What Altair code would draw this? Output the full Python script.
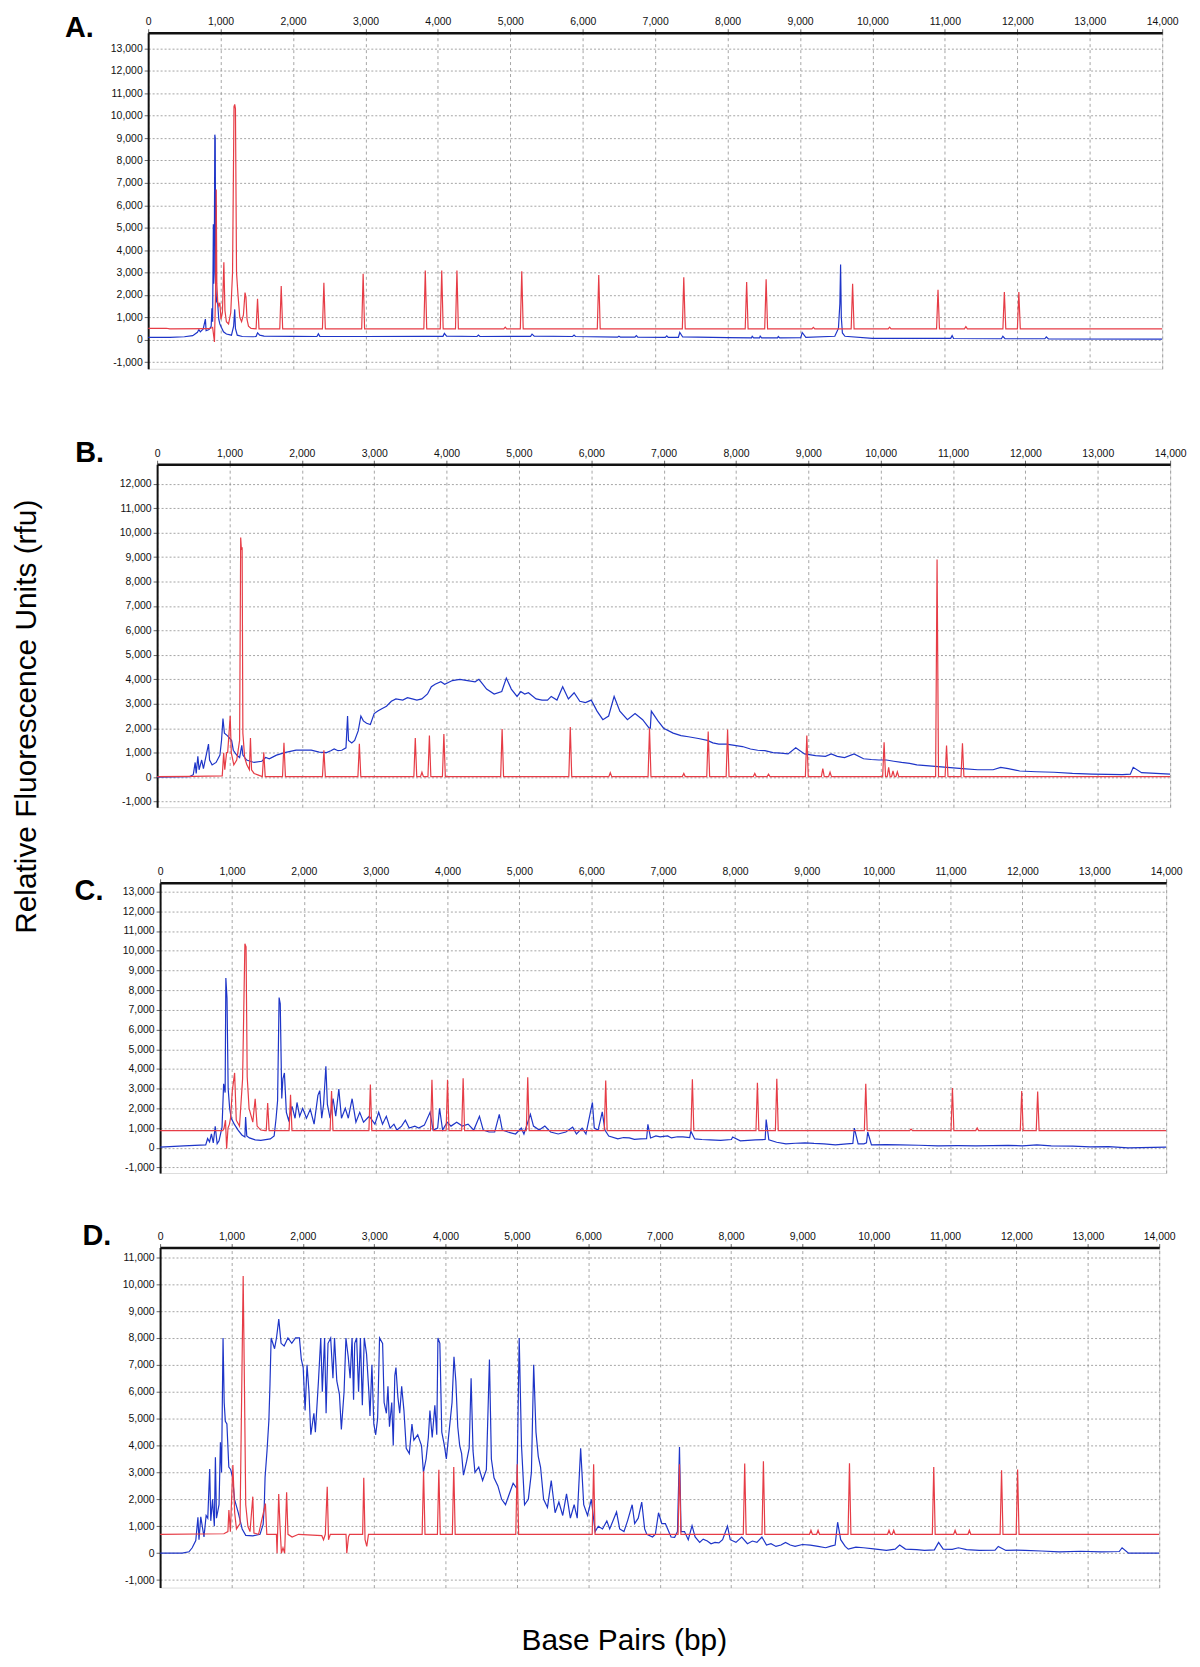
import altair as alt
import pandas as pd

RED = "#e63c46"
BLUE = "#1e35c8"
FONT = "Liberation Sans"

# ---------------- Panel A ----------------
A_RED_BASE = 480
A_RED_START = [(0, 500), (250, 510), (300, 480), (850, 490), (890, 550), (915, -100), (930, 2000),
               (940, 6700), (948, 2500), (960, 1700), (975, 1500), (990, 1650), (1005, 900), (1025, 1200),
               (1045, 3450), (1060, 1300), (1080, 800), (1110, 700), (1140, 1200), (1165, 3000),
               (1185, 10400), (1195, 10500), (1205, 10300), (1220, 3000), (1240, 2000), (1265, 1000),
               (1290, 800), (1315, 1100), (1337, 2100), (1350, 1900), (1365, 900), (1385, 600), (1420, 500)]
A_RED_PEAKS = [(1510, 1830), (1837, 2390), (2426, 2540), (2968, 2940), (3826, 3090), (4053, 3090),
               (4263, 3090), (4930, 560), (5158, 3050), (6221, 2880), (7395, 2790), (8263, 2570),
               (8532, 2690), (9184, 550), (9726, 2490), (10237, 560), (10905, 2230), (11290, 580),
               (11821, 2130), (12021, 2130)]
A_BLUE = [(0, 100), (300, 100), (500, 130), (615, 180), (680, 330), (700, 450), (720, 350), (760, 480),
          (790, 920), (800, 400), (840, 450), (870, 600), (880, 1400), (890, 800), (900, 5150), (905, 2500),
          (912, 3000), (920, 9150), (926, 9000), (932, 2400), (945, 1700), (960, 1600), (975, 900),
          (990, 700), (1010, 550), (1040, 350), (1080, 250), (1150, 200), (1180, 600), (1195, 1350),
          (1205, 500), (1230, 200), (1300, 140), (1450, 130), (1490, 140), (1510, 300), (1540, 200),
          (1600, 160), (2000, 150), (2330, 140), (2350, 260), (2370, 150), (3000, 140), (3800, 150),
          (4070, 150), (4090, 280), (4120, 160), (4540, 140), (4560, 200), (4580, 140), (5280, 150),
          (5300, 250), (5330, 160), (5860, 140), (5880, 200), (5900, 140), (6480, 110), (6500, 150),
          (6520, 110), (6720, 110), (6740, 180), (6760, 110), (7140, 100), (7160, 170), (7180, 100),
          (7320, 100), (7340, 320), (7380, 120), (8000, 90), (8330, 80), (8340, 150), (8360, 80),
          (8440, 80), (8450, 160), (8470, 80), (8690, 80), (8700, 140), (8720, 80), (9010, 90),
          (9030, 320), (9080, 100), (9480, 150), (9530, 500), (9550, 1600), (9560, 3350), (9570, 1000),
          (9585, 300), (9620, 150), (10000, 60), (11080, 60), (11100, 180), (11120, 50), (11780, 40),
          (11800, 150), (11830, 40), (12380, 40), (12400, 120), (12430, 30), (14000, 20)]

# ---------------- Panel B ----------------
B_RED_BASE = 20
B_RED_START = [(0, 20), (500, 30), (900, 50), (920, 1000), (935, 300), (960, 1000), (975, 1000),
               (1010, 2500), (1025, 1000), (1060, 500), (1100, 700), (1140, 1500), (1155, 9800),
               (1165, 9300), (1175, 9400), (1185, 1800), (1210, 800), (1240, 500), (1275, 300),
               (1290, 1600), (1305, 300), (1340, 150), (1400, 80)]
B_RED_PEAKS = [(1474, 1020), (1753, 1400), (2305, 1100), (2795, 1360), (3568, 1600), (3660, 200),
               (3763, 1700), (3963, 1760), (4768, 1970), (5710, 2050), (6263, 180), (6805, 2000),
               (7279, 150), (7616, 1860), (7884, 1950), (8260, 150), (8450, 120), (8979, 1700),
               (9200, 350), (9300, 200), (10047, 1420), (10110, 400), (10170, 250), (10230, 220),
               (10779, 8900), (10910, 1290), (11130, 1380)]
B_BLUE = [(0, 0), (450, 20), (500, 100), (526, 600), (540, 150), (563, 850), (580, 300), (616, 700),
          (640, 350), (710, 1350), (725, 700), (760, 500), (815, 600), (868, 900), (890, 1500), (910, 2400),
          (930, 1800), (970, 1700), (1000, 1600), (1030, 1500), (1053, 1100), (1100, 900), (1140, 800),
          (1170, 1300), (1185, 900), (1237, 700), (1340, 600), (1447, 650), (1500, 800), (1550, 750),
          (1650, 900), (1763, 1000), (1840, 1050), (1920, 1100), (2026, 1100), (2130, 1100), (2240, 1020),
          (2342, 1000), (2400, 1080), (2447, 1150), (2500, 1080), (2552, 1100), (2610, 1200), (2632, 2500),
          (2645, 1500), (2690, 1400), (2730, 1500), (2780, 1900), (2816, 2500), (2850, 2300), (2895, 2200),
          (2947, 2150), (3000, 2600), (3050, 2700), (3105, 2800), (3170, 2900), (3237, 3100), (3300, 3200),
          (3395, 3150), (3460, 3250), (3526, 3200), (3590, 3150), (3658, 3200), (3737, 3400), (3790, 3700),
          (3842, 3800), (3921, 3900), (3974, 3800), (4080, 3950), (4184, 4000), (4290, 3950), (4395, 3900),
          (4447, 4000), (4500, 3800), (4553, 3600), (4658, 3400), (4763, 3500), (4826, 4050), (4895, 3600),
          (4974, 3300), (5026, 3500), (5080, 3400), (5132, 3450), (5237, 3200), (5320, 3150), (5395, 3150),
          (5447, 3300), (5526, 3150), (5605, 3700), (5684, 3200), (5763, 3450), (5842, 3100), (5920, 3050),
          (6000, 3150), (6080, 2700), (6160, 2350), (6240, 2500), (6316, 3300), (6395, 2700), (6500, 2350),
          (6605, 2600), (6710, 2350), (6800, 2000), (6816, 2000), (6830, 2700), (6921, 2300), (7000, 2000),
          (7132, 1800), (7240, 1700), (7342, 1650), (7480, 1580), (7605, 1500), (7680, 1400), (7763, 1350),
          (7868, 1350), (7980, 1300), (8090, 1250), (8200, 1150), (8300, 1100), (8400, 1080), (8510, 1000),
          (8620, 980), (8720, 950), (8826, 1200), (8947, 950), (9100, 880), (9237, 850), (9316, 950),
          (9400, 850), (9500, 800), (9632, 950), (9763, 750), (9870, 720), (9974, 700), (10079, 700),
          (10180, 650), (10289, 600), (10400, 560), (10500, 500), (10710, 450), (10921, 400), (11130, 350),
          (11342, 300), (11553, 300), (11658, 400), (11763, 350), (11921, 250), (12150, 220), (12395, 200),
          (12650, 150), (12921, 120), (13342, 100), (13450, 120), (13490, 400), (13605, 180), (14000, 120)]

# ---------------- Panel C ----------------
C_RED_BASE = 870
C_RED_START = [(0, 870), (873, 870), (890, 1000), (910, 1400), (926, -50), (945, 1000), (965, 1200),
               (980, 1500), (1005, 2900), (1037, 3800), (1060, 1400), (1105, 1100), (1148, 3500),
               (1180, 10350), (1196, 10200), (1212, 3600), (1238, 2000), (1290, 1300), (1323, 2490),
               (1350, 1100), (1400, 900), (1460, 870)]
C_RED_PEAKS = [(1497, 2270), (1815, 2690), (2386, 2880), (2926, 3210), (3783, 3450), (4000, 3450),
               (4217, 3530), (5116, 3580), (6201, 3410), (7407, 3480), (8312, 3300), (8582, 3500),
               (9820, 3250), (10450, 950), (11026, 3030), (11370, 1000), (11990, 2880), (12212, 2850)]
C_BLUE = [(0, 30), (330, 100), (635, 150), (661, 470), (688, 300), (714, 700), (740, 250), (767, 1090),
          (794, 200), (820, 350), (862, 1050), (884, 3250), (905, 2800), (915, 8610), (931, 7600),
          (947, 3000), (968, 2000), (990, 1500), (1032, 1200), (1085, 900), (1138, 650), (1180, 550),
          (1190, 1560), (1206, 600), (1243, 500), (1323, 400), (1402, 380), (1534, 450), (1587, 600),
          (1614, 1500), (1635, 2400), (1656, 7620), (1672, 7300), (1693, 2500), (1709, 3500), (1730, 3800),
          (1757, 1800), (1788, 1400), (1836, 2100), (1878, 1500), (1905, 2300), (1942, 1600), (1984, 2000),
          (2037, 1500), (2090, 1950), (2143, 1200), (2196, 2660), (2222, 2900), (2249, 1500), (2275, 2200),
          (2307, 4140), (2328, 2200), (2365, 1500), (2407, 2500), (2444, 1600), (2487, 2980), (2524, 1500),
          (2577, 2000), (2619, 1500), (2672, 2490), (2725, 1300), (2778, 1800), (2831, 1300), (2910, 1600),
          (2989, 1200), (3042, 1800), (3095, 1200), (3148, 1600), (3201, 1000), (3254, 1200), (3296, 900),
          (3360, 1100), (3413, 1400), (3466, 1000), (3545, 1100), (3598, 1000), (3677, 1150), (3757, 1800),
          (3799, 900), (3862, 1000), (3889, 2000), (3931, 900), (3995, 1300), (4048, 1100), (4127, 1300),
          (4206, 1100), (4286, 1200), (4365, 900), (4444, 1600), (4497, 900), (4577, 800), (4656, 800),
          (4720, 1700), (4762, 900), (4841, 800), (4947, 700), (5026, 1000), (5063, 700), (5153, 1700),
          (5196, 1100), (5275, 900), (5354, 1100), (5434, 800), (5540, 700), (5646, 800), (5741, 1050),
          (5794, 700), (5873, 1000), (5926, 700), (6016, 2300), (6042, 1000), (6095, 900), (6153, 1820),
          (6190, 900), (6243, 600), (6370, 450), (6450, 520), (6529, 500), (6600, 430), (6687, 450),
          (6770, 460), (6788, 1190), (6825, 500), (6900, 600), (6958, 550), (7063, 600), (7116, 500),
          (7200, 560), (7275, 550), (7370, 520), (7386, 840), (7439, 450), (7540, 420), (7651, 400),
          (7800, 380), (7950, 420), (7968, 550), (8074, 350), (8180, 380), (8286, 400), (8420, 420),
          (8434, 1430), (8471, 400), (8580, 280), (8709, 200), (8840, 230), (8974, 250), (9100, 220),
          (9238, 200), (9397, 150), (9556, 200), (9640, 220), (9661, 1000), (9714, 200), (9794, 200),
          (9830, 250), (9847, 800), (9899, 150), (10100, 160), (10296, 150), (10560, 130), (10825, 100),
          (11100, 110), (11354, 100), (11800, 120), (12000, 100), (12201, 150), (12400, 100), (12700, 80),
          (12942, 50), (13200, 60), (13471, 0), (14000, 30)]

# ---------------- Panel D ----------------
D_RED_BASE = 700
D_RED_START = [(0, 700), (894, 720), (950, 800), (964, 1600), (985, 800), (1020, 3280), (1045, 1500),
               (1070, 900), (1120, 1100), (1164, 10300), (1180, 6650), (1200, 1800), (1230, 1000),
               (1260, 800), (1299, 2100), (1315, 750), (1380, 700), (1476, 1840), (1495, 700), (1570, 700),
               (1630, 700), (1639, 0), (1662, 2200), (1680, 1000), (1700, 0), (1722, 200), (1745, 0),
               (1773, 2260), (1792, 700), (1850, 600), (1940, 700), (2266, 650), (2290, 500), (2315, 700),
               (2342, 2470), (2360, 500), (2385, 700), (2605, 700), (2616, 0), (2640, 600), (2655, 700),
               (2730, 700), (2838, 700), (2854, 2800), (2872, 500), (2896, 250), (2920, 700)]
D_RED_PEAKS = [(3692, 3040), (3906, 3100), (4115, 3200), (5004, 3300), (6075, 3300), (7278, 3300),
               (8192, 3330), (8454, 3420), (9120, 850), (9220, 850), (9660, 3340), (10214, 850),
               (10280, 850), (10841, 3200), (11140, 850), (11340, 850), (11791, 3080), (12016, 3110)]
D_BLUE = [(0, 0), (310, 0), (405, 50), (450, 200), (500, 470), (530, 1330), (545, 500), (570, 1350),
          (615, 600), (645, 1400), (668, 1300), (695, 3130), (710, 1200), (735, 2000), (760, 1000),
          (775, 3560), (790, 1300), (826, 1800), (845, 4120), (861, 3000), (882, 8000), (898, 5600),
          (914, 4900), (936, 4800), (963, 3200), (990, 3100), (1016, 2800), (1043, 2000), (1096, 1500),
          (1150, 900), (1200, 660), (1300, 640), (1400, 700), (1444, 1070), (1460, 1800), (1471, 2820),
          (1498, 3800), (1524, 4920), (1540, 6300), (1556, 8000), (1604, 7600), (1631, 8000), (1663, 8700),
          (1695, 7800), (1738, 7700), (1791, 8000), (1845, 7800), (1898, 8000), (1952, 8000), (1979, 7200),
          (2005, 6900), (2032, 5300), (2059, 7000), (2086, 6000), (2112, 4400), (2155, 5200), (2176, 4500),
          (2219, 6400), (2251, 8000), (2273, 6000), (2305, 8000), (2326, 5200), (2353, 7800), (2390, 8000),
          (2422, 6500), (2444, 8000), (2476, 6400), (2513, 5900), (2540, 4600), (2578, 6000), (2604, 8000),
          (2636, 7300), (2663, 6500), (2690, 8000), (2711, 5700), (2727, 7800), (2754, 8000), (2781, 6000),
          (2807, 8000), (2834, 5500), (2861, 8000), (2893, 7400), (2925, 6000), (2941, 5100), (2968, 7000),
          (2995, 4800), (3021, 4400), (3048, 5000), (3075, 8000), (3118, 7800), (3139, 5600), (3171, 5200),
          (3193, 6200), (3214, 4700), (3246, 5600), (3267, 4000), (3289, 6600), (3305, 6900), (3332, 5800),
          (3358, 5200), (3385, 6200), (3417, 5300), (3449, 3900), (3492, 3700), (3529, 4800), (3556, 4200),
          (3610, 4400), (3663, 4000), (3690, 3000), (3727, 3500), (3759, 4300), (3781, 5300), (3813, 4300),
          (3850, 5500), (3877, 4400), (3893, 8000), (3920, 7800), (3947, 4500), (3984, 4000), (4011, 3500),
          (4037, 4200), (4091, 5600), (4118, 7300), (4144, 6400), (4171, 4700), (4198, 4000), (4225, 3700),
          (4251, 2900), (4294, 3400), (4331, 3900), (4358, 6500), (4385, 3800), (4412, 3000), (4465, 3200),
          (4519, 2700), (4572, 3100), (4615, 7200), (4642, 3500), (4679, 2800), (4733, 2500), (4786, 2000),
          (4840, 1800), (4893, 2200), (4947, 2600), (5000, 2400), (5032, 8000), (5064, 4000), (5107, 1800),
          (5160, 2000), (5203, 3000), (5235, 7000), (5267, 4500), (5299, 3600), (5331, 3200), (5374, 2000),
          (5428, 1700), (5481, 2700), (5535, 1500), (5588, 1900), (5642, 1400), (5695, 2200), (5749, 1300),
          (5802, 1800), (5845, 1300), (5893, 3900), (5936, 1800), (5989, 1400), (6043, 2000), (6096, 800),
          (6140, 1000), (6200, 900), (6260, 1200), (6300, 900), (6396, 1530), (6440, 900), (6500, 800),
          (6550, 1200), (6615, 1800), (6650, 1100), (6700, 1300), (6749, 1900), (6790, 900), (6820, 700),
          (6900, 600), (6940, 700), (6984, 1500), (7030, 1100), (7080, 1100), (7160, 600), (7210, 590),
          (7250, 800), (7278, 3950), (7300, 800), (7348, 800), (7401, 500), (7454, 1020), (7497, 600),
          (7561, 400), (7610, 520), (7668, 450), (7720, 350), (7775, 400), (7830, 380), (7882, 500),
          (7951, 1000), (7989, 500), (8069, 400), (8150, 600), (8230, 350), (8300, 450), (8363, 400),
          (8433, 600), (8497, 300), (8560, 350), (8630, 250), (8700, 300), (8764, 400), (8830, 300),
          (8898, 250), (9000, 320), (9112, 300), (9220, 250), (9326, 200), (9400, 260), (9459, 300),
          (9494, 1150), (9537, 500), (9600, 250), (9643, 150), (9750, 220), (9857, 200), (10000, 160),
          (10177, 100), (10300, 150), (10363, 300), (10444, 150), (10600, 130), (10711, 100), (10850, 120),
          (10909, 400), (10973, 150), (11100, 140), (11186, 200), (11300, 130), (11480, 100), (11700, 110),
          (11745, 250), (11852, 100), (12000, 110), (12119, 100), (12350, 80), (12600, 50), (12900, 70),
          (13186, 50), (13440, 60), (13480, 200), (13570, 0), (14000, 0)]

X_TICKS = list(range(0, 14001, 1000))
PEAK_HALF_WIDTH = 20
LEFT_EXTENT = 90


def red_trace(start, peaks, base):
    pts = list(start)
    for x, h in peaks:
        pts += [(x - PEAK_HALF_WIDTH, base), (x, h), (x + PEAK_HALF_WIDTH, base)]
    pts.append((14000, base))
    return pd.DataFrame(pts, columns=["bp", "rfu"])


def blue_trace(pts):
    return pd.DataFrame(pts, columns=["bp", "rfu"])


def one(text):
    return pd.DataFrame({"t": [text]})


HIDDEN_VIEW = alt.ViewBackground(stroke="transparent")


def panel(label, red_df, blue_df, width, height, ydom, ymax_tick, lab_x, lab_y, sp_top, extras=()):
    x = alt.X("bp:Q", scale=alt.Scale(domain=[0, 14000], nice=False, zero=False),
              axis=alt.Axis(orient="top", values=X_TICKS, format=",d", title=None,
                            grid=True, gridDash=[3, 3], gridColor="#8f8f8f", gridWidth=0.8,
                            domainColor="#111111", domainWidth=2.5, tickSize=4, tickColor="#666666",
                            labelFont=FONT, labelFontSize=10.5, labelColor="#111111", labelPadding=2,
                            labelFlush=False, labelOverlap=False))
    y = alt.Y("rfu:Q", scale=alt.Scale(domain=ydom, nice=False, zero=False),
              axis=alt.Axis(values=list(range(-1000, ymax_tick + 1, 1000)), title=None,
                            labelExpr="replace(format(datum.value, ','), '\u2212', '-')",
                            grid=True, gridDash=[2, 2], gridColor="#8f8f8f", gridWidth=0.8,
                            domainColor="#111111", domainWidth=2, tickSize=4, tickColor="#666666",
                            labelFont=FONT, labelFontSize=10.5, labelColor="#111111", labelPadding=2,
                            labelFlush=False, labelOverlap=False))
    blue = alt.Chart(blue_df).mark_line(color=BLUE, strokeWidth=1.2, clip=True).encode(x=x, y=y)
    red = alt.Chart(red_df).mark_line(color=RED, strokeWidth=1.2, clip=True).encode(x=x, y=y)
    lab = alt.Chart(one(label)).mark_text(align="left", baseline="alphabetic", font=FONT, fontSize=29,
                                          fontWeight="bold", color="#000000").encode(
        text="t:N", x=alt.value(lab_x), y=alt.value(lab_y))
    spacer = alt.Chart(one("s")).mark_rule(strokeOpacity=0, strokeWidth=1).encode(
        x=alt.value(-LEFT_EXTENT), y=alt.value(sp_top), y2=alt.value(height + 5))
    return alt.layer(blue, red, lab, spacer, *extras).properties(width=width, height=height)


def pad(w):
    return alt.Chart(one("p")).mark_rule(strokeOpacity=0).encode(
        x=alt.value(0), y=alt.value(0), y2=alt.value(1)
    ).properties(width=w, height=1, view=HIDDEN_VIEW)


xtitle = alt.Chart(one("Base Pairs (bp)")).mark_text(
    font=FONT, fontSize=30, align="center", baseline="middle", color="#000000").encode(
    text="t:N", x=alt.value(467), y=alt.value(396))

ytitle_chart = alt.Chart(one("Relative Fluorescence Units (rfu)")).mark_text(
    angle=270, font=FONT, fontSize=30, align="center", baseline="middle", color="#000000").encode(
    text="t:N", x=alt.value(18), y=alt.value(688)
).properties(width=35, height=1000, view=HIDDEN_VIEW)

pA = panel("A.", red_trace(A_RED_START, A_RED_PEAKS, A_RED_BASE), blue_trace(A_BLUE),
           1020, 338, [-1300, 13700], 13000, -83.6, 4, -18)
pB = panel("B.", red_trace(B_RED_START, B_RED_PEAKS, B_RED_BASE), blue_trace(B_BLUE),
           1019, 345, [-1230, 12800], 12000, -82.3, -2, -30)
pC = panel("C.", red_trace(C_RED_START, C_RED_PEAKS, C_RED_BASE), blue_trace(C_BLUE),
           1012, 292, [-1280, 13450], 13000, -86, 17, -30)
pD = panel("D.", red_trace(D_RED_START, D_RED_PEAKS, D_RED_BASE), blue_trace(D_BLUE),
           1005, 342, [-1280, 11360], 11000, -78, -3, -30, extras=(xtitle,))

cellA = alt.hconcat(pad(11), pA, spacing=0)
cellB = alt.hconcat(pad(20), pB, spacing=0)
cellC = alt.hconcat(pad(23), pC, spacing=0)
cellD = alt.hconcat(pad(23), pD, spacing=0)

panels = alt.vconcat(
    cellA,
    alt.vconcat(cellB, alt.vconcat(cellC, cellD, spacing=38), spacing=39),
    spacing=59,
)

chart = alt.hconcat(ytitle_chart, panels, spacing=0).properties(
    padding={"left": 0, "top": 0, "right": 5, "bottom": 5}
).configure_view(stroke="#444444", strokeWidth=1).configure(background="white")

chart.save("out.html", embed_options={"renderer": "svg", "actions": False})
